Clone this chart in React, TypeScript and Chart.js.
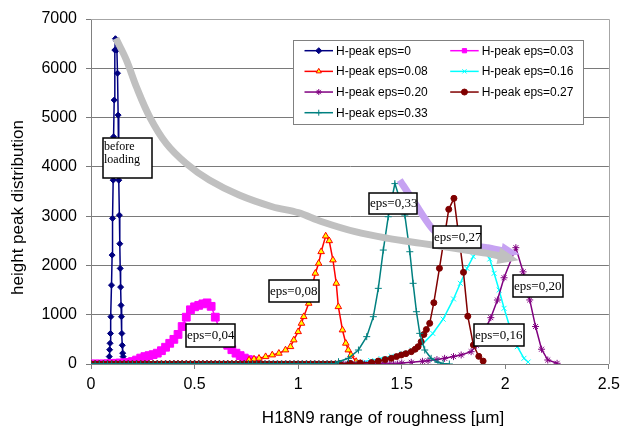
import React, { useEffect, useRef } from "react";
import { Chart, registerables } from "chart.js";
import { drawPoint } from "chart.js/helpers";

Chart.register(...registerables);

// ---------- data ----------
const seriesLabels = [
  "H-peak eps=0",
  "H-peak eps=0.03",
  "H-peak eps=0.08",
  "H-peak eps=0.16",
  "H-peak eps=0.20",
  "H-peak eps=0.27",
  "H-peak eps=0.33",
];

const xTicks = [0, 0.5, 1, 1.5, 2, 2.5];
const yTicks = [0, 1000, 2000, 3000, 4000, 5000, 6000, 7000];

// shared baseline (near-zero readings) x positions
const baselineX = [
  0, 0.02, 0.04, 0.06, 0.08, 0.1, 0.12, 0.14, 0.16, 0.18, 0.2, 0.22, 0.24, 0.26, 0.28, 0.3, 0.32, 0.34,
  0.36, 0.38, 0.4, 0.42, 0.44, 0.46, 0.48, 0.5, 0.52, 0.54, 0.56, 0.58, 0.6, 0.62, 0.64, 0.66, 0.68,
  0.7, 0.72, 0.74, 0.76, 0.78, 0.8, 0.82, 0.84, 0.86, 0.88, 0.9, 0.92, 0.94, 0.96, 0.98, 1.0, 1.02,
  1.04, 1.06, 1.08, 1.1, 1.12, 1.14, 1.16, 1.18, 1.2, 1.22, 1.24, 1.26, 1.28, 1.3, 1.32, 1.34, 1.36,
  1.38, 1.4, 1.42, 1.44, 1.46, 1.48,
];

const eps0X = [0.08, 0.086, 0.088, 0.09, 0.092, 0.094, 0.096, 0.099, 0.102, 0.104, 0.107, 0.109, 0.112, 0.115, 0.118,
  0.122, 0.125, 0.128, 0.131, 0.134, 0.137, 0.139, 0.141, 0.143, 0.145, 0.147, 0.149, 0.151, 0.153, 0.155, 0.158, 0.162, 0.17, 0.2, 0.24];
const eps0Y = [10, 40, 150, 290, 420, 620, 960, 1600, 2210, 2955, 3730, 4610, 5355, 6370, 6600,
  6560, 6370, 5900, 5050, 3730, 3020, 2440, 1940, 1560, 1190, 960, 620, 380, 220, 150, 80, 20, 0, 0, 0];

const eps03X = [0, 0.02, 0.04, 0.06, 0.08, 0.1, 0.12, 0.14, 0.16, 0.18, 0.2, 0.22, 0.24, 0.26, 0.28, 0.3, 0.32, 0.34,
  0.36, 0.38, 0.4, 0.42, 0.44, 0.46, 0.48, 0.5, 0.52, 0.54, 0.56, 0.58, 0.6, 0.62, 0.64, 0.66, 0.68, 0.7, 0.72, 0.74, 0.76, 0.78, 0.8];
const eps03Y = [0, 0, 0, 0, 5, 10, 15, 20, 25, 30, 50, 80, 120, 150, 170, 190, 220, 270,
  340, 420, 500, 600, 760, 950, 1100, 1160, 1190, 1220, 1240, 1170, 950, 700, 500, 380, 290, 220, 170, 120, 90, 70, 40];

const eps08X = [0.763, 0.787, 0.811, 0.843, 0.875, 0.907, 0.939, 0.963, 0.979, 1.0, 1.016, 1.027, 1.051, 1.067, 1.083,
  1.099, 1.111, 1.133, 1.15, 1.168, 1.184, 1.194, 1.214, 1.23, 1.242, 1.255, 1.28, 1.3];
const eps08Y = [81, 100, 115, 148, 183, 217, 284, 351, 487, 655, 825, 960, 1231, 1568, 1840,
  2042, 2278, 2596, 2500, 2110, 1637, 1162, 690, 420, 284, 183, 50, 10];

const eps16X = [1.25, 1.3, 1.35, 1.4, 1.45, 1.5, 1.55, 1.6, 1.65, 1.7, 1.75, 1.783, 1.815, 1.845, 1.875, 1.905, 1.925,
  1.946, 1.97, 1.994, 2.026, 2.058, 2.09, 2.11];
const eps16Y = [20, 40, 70, 110, 160, 220, 280, 400, 620, 910, 1320, 1637, 1940, 2180, 2330, 2280, 2130,
  1840, 1500, 1130, 690, 351, 115, 40];

const eps20X = [1.5, 1.546, 1.6, 1.627, 1.67, 1.707, 1.75, 1.787, 1.835, 1.86, 1.882, 1.93, 1.962, 1.994, 2.051,
  2.086, 2.118, 2.146, 2.175, 2.205, 2.25];
const eps20Y = [20, 34, 55, 67, 90, 115, 150, 183, 250, 380, 521, 940, 1298, 1750, 2360,
  1870, 1300, 760, 300, 81, 14];

const eps27X = [1.2, 1.25, 1.3, 1.355, 1.387, 1.42, 1.45, 1.475, 1.498, 1.52, 1.546, 1.565, 1.579, 1.594, 1.607,
  1.619, 1.635, 1.655, 1.682, 1.727, 1.752, 1.798, 1.819, 1.846, 1.872, 1.893];
const eps27Y = [10, 15, 20, 30, 60, 90, 115, 150, 183, 210, 250, 300, 351, 452, 600,
  700, 825, 1243, 1941, 3138, 3361, 1860, 970, 385, 155, 60];

const eps33X = [1.195, 1.243, 1.291, 1.331, 1.363, 1.387, 1.411, 1.435, 1.467, 1.515, 1.539, 1.555, 1.571, 1.587,
  1.611, 1.642, 1.675, 1.7, 1.73];
const eps33Y = [47, 115, 284, 555, 960, 1535, 2312, 2988, 3660, 3022, 2278, 1637, 1061, 622,
  284, 115, 34, 10, 0];

// grey trend arrow (peak heights) and lavender arrow
const trendX = [0.12, 0.171, 0.219, 0.283, 0.363, 0.459, 0.571, 0.715, 0.875, 1.0, 1.115, 1.275, 1.435, 1.595, 1.755, 1.915, 1.971];
const trendY = [6607, 6166, 5625, 5016, 4477, 4071, 3732, 3428, 3191, 3070, 2886, 2684, 2549, 2448, 2347, 2245, 2192];
const shiftX = [1.49, 1.564, 1.658, 1.819, 1.915, 1.985];
const shiftY = [3732, 3260, 2700, 2420, 2360, 2300];

// text boxes: text and anchor (data coordinates of box centre)
const noteTexts = ["before\nloading", "eps=0,04", "eps=0,08", "eps=0,33", "eps=0,27", "eps=0,20", "eps=0,16"];
const noteX = [0.177, 0.579, 0.978, 1.457, 1.768, 2.156, 1.969];
const noteY = [4180, 578, 1481, 3257, 2567, 1583, 588];

const xTitle = "H18N9 range of roughness [\u00b5m]";
const yTitle = "height peak distribution";

// ---------- helpers ----------
const pts = (xs: number[], ys: number[]) => xs.map((x, i) => ({ x, y: ys[i] }));
const withBase = (xs: number[], ys: number[]) =>
  baselineX.filter((v) => v < xs[0] - 0.01).map((x) => ({ x, y: 0 })).concat(pts(xs, ys));

const SANS = '"Liberation Sans", Arial, sans-serif';
const SERIF = '"Liberation Serif", "Times New Roman", serif';

const plotFrame = {
  id: "plotFrame",
  beforeDatasetsDraw(chart: any) {
    const { ctx, chartArea: a } = chart;
    ctx.save();
    ctx.strokeStyle = "#a6a6a6";
    ctx.lineWidth = 1;
    ctx.beginPath();
    ctx.moveTo(a.left, Math.round(a.top) + 0.5);
    ctx.lineTo(Math.round(a.right) + 0.5, Math.round(a.top) + 0.5);
    ctx.lineTo(Math.round(a.right) + 0.5, a.bottom);
    ctx.stroke();
    ctx.restore();
  },
};

const arrowHeads = {
  id: "arrowHeads",
  afterDatasetsDraw(chart: any) {
    const ctx = chart.ctx;
    const idx = chart.data.datasets.map((_: any, i: number) => i).filter((i: number) => chart.data.datasets[i].arrowLength);
    idx.sort((a: number, b: number) => chart.data.datasets[b].order - chart.data.datasets[a].order);
    for (const i of idx) {
      const ds = chart.data.datasets[i];
      const el = chart.getDatasetMeta(i).data;
      const p1 = el[el.length - 2], p2 = el[el.length - 1];
      const dx = p2.x - p1.x, dy = p2.y - p1.y;
      const len = Math.hypot(dx, dy) || 1;
      const ux = dx / len, uy = dy / len;
      const hw = ds.arrowWidth / 2;
      ctx.save();
      ctx.fillStyle = ds.borderColor;
      ctx.beginPath();
      ctx.moveTo(p2.x + ux * ds.arrowLength, p2.y + uy * ds.arrowLength);
      ctx.lineTo(p2.x - uy * hw - ux * 1, p2.y + ux * hw - uy * 1);
      ctx.lineTo(p2.x + uy * hw - ux * 1, p2.y - ux * hw - uy * 1);
      ctx.closePath();
      ctx.fill();
      ctx.restore();
    }
  },
};

const boxLegend = {
  id: "boxLegend",
  afterDraw(chart: any, _args: any, o: any) {
    const { ctx, chartArea: a } = chart;
    const x0 = Math.round(a.left + o.offsetX), y0 = Math.round(a.top + o.offsetY);
    ctx.save();
    ctx.fillStyle = "#ffffff";
    ctx.fillRect(x0, y0, o.width, o.height);
    ctx.strokeStyle = "#808080";
    ctx.lineWidth = 1;
    ctx.strokeRect(x0 + 0.5, y0 + 0.5, o.width, o.height);
    const items = chart.data.datasets.filter((d: any) => d.inLegend);
    items.forEach((ds: any, k: number) => {
      const col = k % 2, row = Math.floor(k / 2);
      const lx = x0 + o.padX + col * o.colWidth;
      const ly = y0 + o.padY + row * o.rowHeight;
      ctx.strokeStyle = ds.borderColor;
      ctx.lineWidth = 1.5;
      ctx.beginPath();
      ctx.moveTo(lx, ly);
      ctx.lineTo(lx + o.lineLen, ly);
      ctx.stroke();
      ctx.fillStyle = ds.pointBackgroundColor;
      ctx.strokeStyle = ds.pointBorderColor;
      ctx.lineWidth = 1;
      drawPoint(ctx, { pointStyle: ds.pointStyle, radius: o.markerRadius, borderWidth: 1, rotation: 0 } as any, lx + o.lineLen / 2, ly);
      ctx.fillStyle = "#000";
      ctx.font = `12px ${SANS}`;
      ctx.textBaseline = "middle";
      ctx.textAlign = "left";
      ctx.fillText(ds.label, lx + o.lineLen + o.textGap, ly + 0.5);
    });
    ctx.restore();
  },
};

const textBoxes = {
  id: "textBoxes",
  afterDraw(chart: any, _args: any, o: any) {
    const { ctx } = chart;
    const xs = chart.scales.x, ys = chart.scales.y;
    ctx.save();
    noteTexts.forEach((t, i) => {
      const cx = xs.getPixelForValue(noteX[i]);
      const cy = ys.getPixelForValue(noteY[i]);
      const w = o.sizes[i][0], h = o.sizes[i][1];
      const l = Math.round(cx - w / 2), tp = Math.round(cy - h / 2);
      ctx.fillStyle = "#fff";
      ctx.fillRect(l, tp, w, h);
      ctx.strokeStyle = "#000";
      ctx.lineWidth = 1.5;
      ctx.strokeRect(l, tp, w, h);
      ctx.fillStyle = "#000";
      ctx.textAlign = "left";
      ctx.textBaseline = "middle";
      const lines = t.split("\n");
      if (lines.length > 1) {
        ctx.font = `12px ${SERIF}`;
        lines.forEach((ln, j) => ctx.fillText(ln, l + 1, tp + 9 + j * 12.6));
      } else {
        ctx.font = `13px ${SERIF}`;
        ctx.fillText(t, l + 1, tp + h / 2 + 0.5);
      }
    });
    ctx.restore();
  },
};

const axisTitles = {
  id: "axisTitles",
  afterDraw(chart: any) {
    const { ctx, chartArea: a } = chart;
    ctx.save();
    ctx.fillStyle = "#000";
    ctx.font = `17px ${SANS}`;
    ctx.textAlign = "center";
    ctx.textBaseline = "alphabetic";
    ctx.fillText(xTitle, a.left + 292, 423);
    ctx.translate(23, a.top + 188.5);
    ctx.rotate(-Math.PI / 2);
    ctx.fillText(yTitle, 0, 0);
    ctx.restore();
  },
};

export default function App() {
  const ref = useRef<HTMLCanvasElement | null>(null);
  useEffect(() => {
    document.body.style.margin = "0";
    const canvas = ref.current!;
    const line = (label: string, data: any[], color: string, style: string, radius: number, order: number, extra: any = {}) => ({
      type: "line",
      label,
      data,
      borderColor: color,
      backgroundColor: color,
      pointBackgroundColor: color,
      pointBorderColor: color,
      borderWidth: 1.5,
      pointStyle: style,
      pointRadius: radius,
      pointBorderWidth: 1,
      showLine: true,
      fill: false,
      tension: 0,
      order,
      inLegend: true,
      ...extra,
    });
    const datasets: any[] = [
      line(seriesLabels[0], withBase(eps0X, eps0Y), "#000080", "rectRot", 3, 8),
      line(seriesLabels[1], pts(eps03X, eps03Y), "#ff00ff", "rect", 5.5, 7),
      line(seriesLabels[2], withBase(eps08X, eps08Y), "#ff0000", "triangle", 3.8, 6, { pointBackgroundColor: "#ffff00", pointBorderColor: "#ff0000" }),
      line(seriesLabels[3], withBase(eps16X, eps16Y), "#00ffff", "crossRot", 3.5, 5),
      line(seriesLabels[4], withBase(eps20X, eps20Y), "#800080", "star", 3.5, 4),
      line(seriesLabels[5], withBase(eps27X, eps27Y), "#800000", "circle", 3, 3),
      line(seriesLabels[6], withBase(eps33X, eps33Y), "#008080", "cross", 3.5, 2),
      {
        type: "line",
        label: "trend",
        data: pts(trendX, trendY),
        borderColor: "#c0c0c0",
        backgroundColor: "#c0c0c0",
        borderWidth: 7,
        pointRadius: 0,
        tension: 0.35,
        borderCapStyle: "butt",
        order: 0,
        arrowLength: 20,
        arrowWidth: 17,
      },
      {
        type: "line",
        label: "shift",
        data: pts(shiftX, shiftY),
        borderColor: "#c6a2f2",
        backgroundColor: "#c6a2f2",
        borderWidth: 7,
        pointRadius: 0,
        tension: 0.2,
        borderCapStyle: "butt",
        order: 1,
        arrowLength: 18,
        arrowWidth: 15,
      },
    ];

    const chart = new Chart(canvas, {
      type: "line",
      data: { datasets },
      options: {
        responsive: false,
        animation: false,
        events: [],
        layout: { padding: { top: 19, right: 12, left: 0, bottom: 0 } },
        plugins: {
          legend: { display: false },
          tooltip: { enabled: false },
          boxLegend: {
            offsetX: 202, offsetY: 21, width: 290, height: 84,
            padX: 11.5, padY: 10.7, colWidth: 145.7, rowHeight: 20.67,
            lineLen: 28.5, textGap: 3, markerRadius: 3,
          },
          textBoxes: {
            sizes: [[49, 40], [49, 23], [50, 22], [48, 21], [48, 22], [50, 22], [50, 22]],
          },
        } as any,
        scales: {
          x: {
            type: "linear",
            min: 0,
            max: 2.5,
            afterBuildTicks: (s: any) => { s.ticks = xTicks.map((v) => ({ value: v })); },
            afterFit: (s: any) => { s.height = 65; },
            ticks: { font: { size: 16, family: SANS }, color: "#000", padding: 6, callback: (v: any) => String(v) },
            grid: { drawOnChartArea: false, drawTicks: true, tickLength: 5, color: "#808080" },
            border: { color: "#808080", width: 1 },
          },
          y: {
            type: "linear",
            min: 0,
            max: 7000,
            afterBuildTicks: (s: any) => { s.ticks = yTicks.map((v) => ({ value: v })); },
            afterFit: (s: any) => { s.width = 91; },
            ticks: { font: { size: 16, family: SANS }, color: "#000", padding: 9, callback: (v: any) => String(v) },
            grid: { color: "#7a7a7a", lineWidth: 1, tickLength: 5, drawTicks: true },
            border: { color: "#808080", width: 1 },
          },
        },
      },
      plugins: [plotFrame, arrowHeads, boxLegend, textBoxes, axisTitles],
    } as any);
    return () => chart.destroy();
  }, []);

  return (
    <div style={{ width: 626, height: 429 }}>
      <canvas ref={ref} width={626} height={429} style={{ display: "block" }} />
    </div>
  );
}
